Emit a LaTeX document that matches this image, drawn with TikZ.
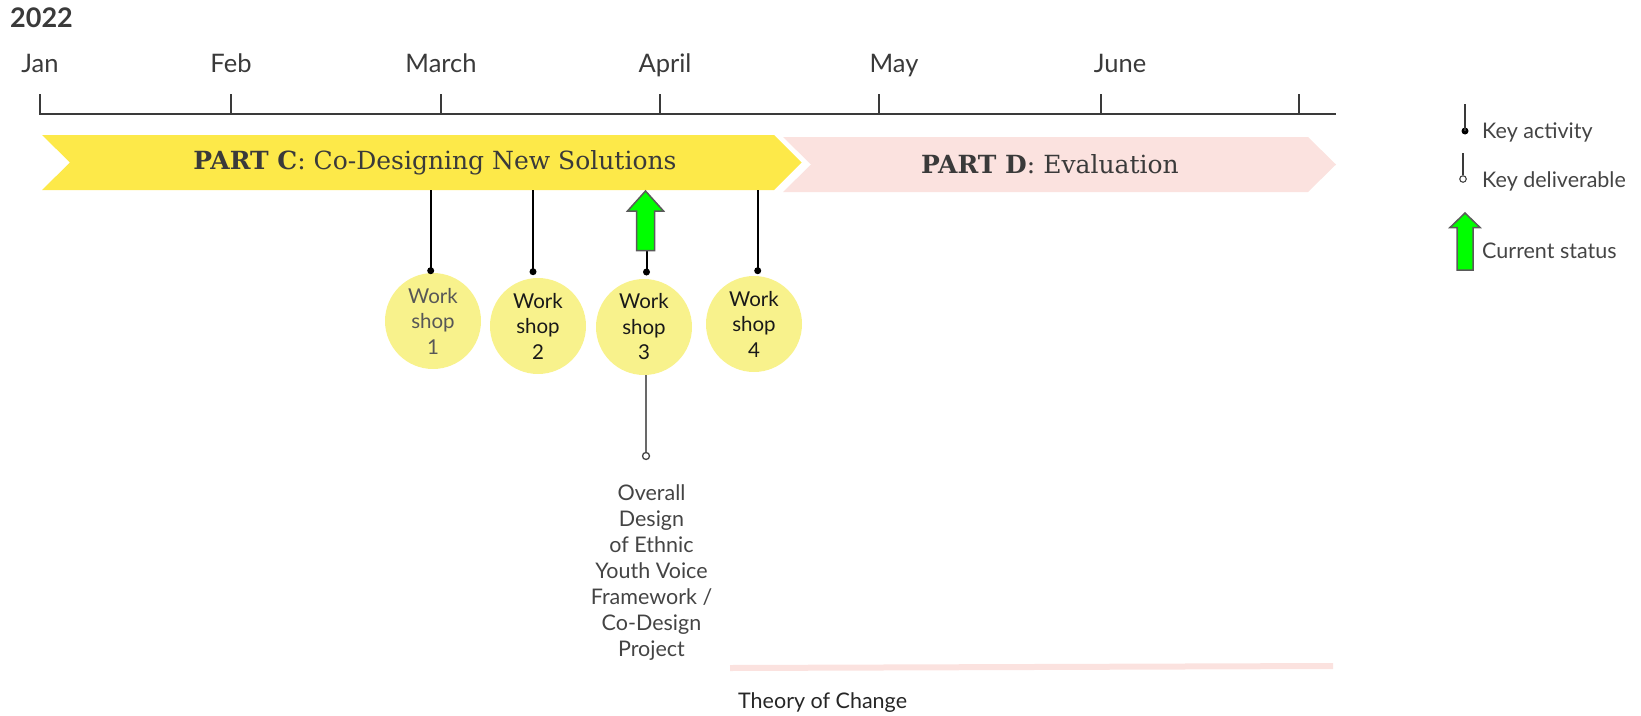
\documentclass[tikz,border=0pt]{standalone}
\usepackage{fontspec}
\setmainfont{Lato}
\newfontfamily\slab{DejaVu Serif}
\usetikzlibrary{calc}
\definecolor{ink}{HTML}{3A3A3A}
\definecolor{softink}{HTML}{444444}
\definecolor{banC}{HTML}{FDE949}
\definecolor{banD}{HTML}{FBE2DF}
\definecolor{wsfill}{HTML}{F8F28C}
\definecolor{statusgreen}{HTML}{00FF00}
\definecolor{arrowrim}{HTML}{5A5A5A}

\begin{document}
\begin{tikzpicture}[x=1pt,y=-1pt,
  month/.style={font=\fontsize{25.5}{28}\selectfont, text=ink, anchor=base, inner sep=0pt},
  axisline/.style={line width=2pt, draw=ink},
  bannertext/.style={font=\slab\fontsize{25}{30}\selectfont, text=ink, inner sep=0pt},
  wsbubble/.style={circle, fill=wsfill, minimum size=96pt, inner sep=0pt, align=center,
                   font=\fontsize{20.5}{25.5}\selectfont, text=black!90},
  actdot/.style={circle, fill=black, minimum size=7pt, inner sep=0pt},
  deldot/.style={circle, draw=softink, fill=white, line width=1.3pt, minimum size=7pt, inner sep=0pt},
  stem/.style={line width=2pt, draw=black},
  delstem/.style={line width=2pt, draw=softink!80},
  legstem/.style={line width=1.5pt, draw=ink},
  statusarrow/.style={fill=statusgreen, draw=arrowrim, line width=1.5pt, line join=miter},
  label/.style={font=\fontsize{21.5}{26}\selectfont, text=softink, inner sep=0pt},
  legendtext/.style={font=\fontsize{21.5}{24}\selectfont, text=softink, anchor=base west, inner sep=0pt}
]
\useasboundingbox (0,0) rectangle (1641,715);

% year heading
\node[anchor=base west, inner sep=0pt, font=\bfseries\fontsize{27}{30}\selectfont, text=ink] (year) at (10,27) {2022};

% month labels
\node[month] (jan) at (40,72) {Jan};
\node[month] (feb) at (231,72) {Feb};
\node[month] (mar) at (441,72) {March};
\node[month] (apr) at (665,72) {April};
\node[month] (may) at (894,72) {May};
\node[month] (jun) at (1120,72) {June};

% time axis with ticks
\draw[axisline] (39.5,94) -- (39.5,114) -- (1336,114);
\foreach \tx in {231,440.5,660,879,1101,1298.5}
  \draw[axisline] (\tx,94) -- (\tx,114);

% phase banners
\fill[banC] (42,135) -- (774,135) -- (801.5,162.5) -- (774,190) -- (42,190) -- (70,162.5) -- cycle;
\fill[banD] (783,137) -- (1308,137) -- (1336,164.5) -- (1308,192) -- (783,192) -- (811,164.5) -- cycle;
\node[bannertext] (partC) at (435,163) {\textbf{PART C}: Co-Designing New Solutions};
\node[bannertext] (partD) at (1050,164.5) {\textbf{PART D}: Evaluation};

% workshops
\node[wsbubble, text=softink!90] (ws1) at (433,321) {Work\\shop\\1};
\node[wsbubble] (ws2) at (538,326) {Work\\shop\\2};
\node[wsbubble] (ws3) at (644,327) {Work\\shop\\3};
\node[wsbubble] (ws4) at (754,324) {Work\\shop\\4};

\coordinate (t1) at (430.7,190);
\coordinate (t2) at (533,190);
\coordinate (t4) at (757.7,190);
\node[actdot] (d1) at (430.7,270.7) {};
\node[actdot] (d2) at (533,271.7) {};
\node[actdot] (d3) at (646.5,272) {};
\node[actdot] (d4) at (757.7,270.7) {};
\draw[stem] (t1) -- (d1.center);
\draw[stem] (t2) -- (d2.center);
\draw[stem] (t4) -- (d4.center);

% current status marker above workshop 3
\coordinate (a3) at (646.5,250);
\draw[stem] (a3) -- (d3.center);
\draw[statusarrow] (645.5,191) -- (663.5,211) -- (654.5,211) -- (654.5,250.5)
  -- (636.5,250.5) -- (636.5,211) -- (627.5,211) -- cycle;

% deliverable
\node[deldot] (del) at (646,456) {};
\draw[delstem] (del |- ws3.south) -- (del);
\node[label, align=center, anchor=base] (delText) at (651.5,656)
  {Overall\\Design\\of Ethnic\\Youth Voice\\Framework /\\Co-Design\\Project};

% theory of change
\coordinate (tocA) at (730,668);
\coordinate (tocB) at (1333,666);
\draw[banD, line width=6pt] (tocA) -- (tocB);
\node[anchor=base west, inner sep=0pt, font=\fontsize{21.5}{24}\selectfont, text=black!85] (toc) at (738,708) {Theory of Change};

% legend
\coordinate (lA) at (1465,104);
\node[actdot] (lAd) at (1465,131) {};
\draw[legstem] (lA) -- (lAd.center);
\node[legendtext] (lAt) at (1482,138) {Key activity};

\coordinate (lD) at (1463,153);
\node[deldot, line width=1.1pt, minimum size=6.5pt] (lDd) at (1463,179) {};
\draw[legstem] (lD) -- (lDd.north);
\node[legendtext] (lDt) at (1482,187) {Key deliverable};

\draw[statusarrow] (1465,213) -- (1480,227.5) -- (1473,227.5) -- (1473,270)
  -- (1457,270) -- (1457,227.5) -- (1450,227.5) -- cycle;
\node[legendtext] (lSt) at (1482,258) {Current status};
\end{tikzpicture}
\end{document}
